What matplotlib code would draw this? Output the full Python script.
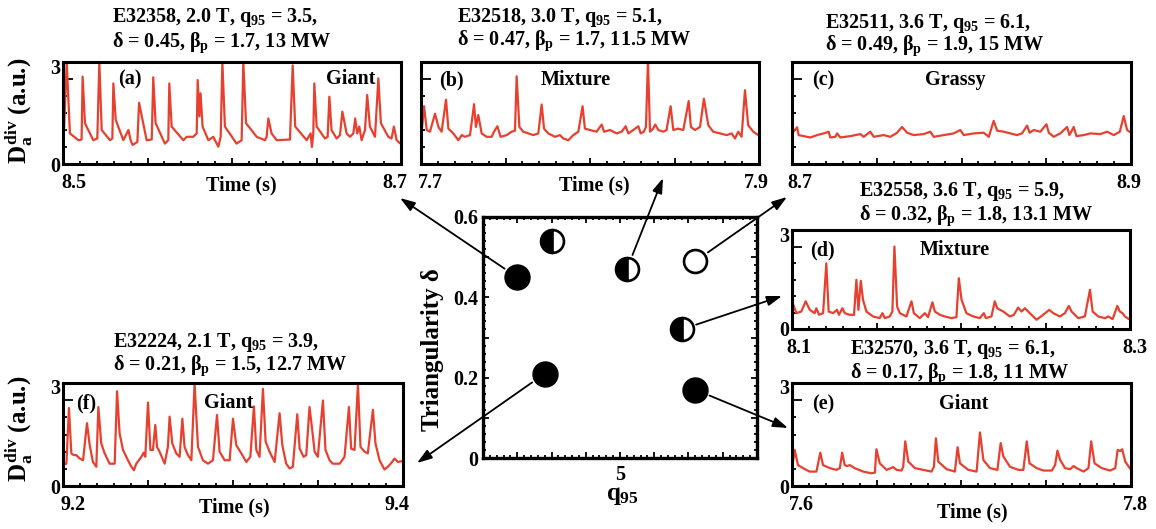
import numpy as np
import matplotlib
matplotlib.use('Agg')
import matplotlib.pyplot as plt
from matplotlib.transforms import ScaledTranslation

plt.rcParams['font.family'] = 'Liberation Serif'
plt.rcParams['font.weight'] = 'bold'
plt.rcParams['mathtext.fontset'] = 'custom'
plt.rcParams['mathtext.rm'] = 'Liberation Serif:bold'
plt.rcParams['mathtext.it'] = 'Liberation Serif:bold'
plt.rcParams['mathtext.bf'] = 'Liberation Serif:bold'

# D_alpha traces: (time since window start in ms, signal in a.u.)
trace_a = [(0.2, 0.51), (2.2, 3.0), (4.1, 0.9), (9.1, 0.7), (11.0, 0.72), (11.6, 2.57), (13.0, 1.2),
           (17.9, 0.7), (20.3, 0.75), (21.5, 3.0), (22.9, 1.0), (27.8, 0.7), (29.2, 0.75), (29.8, 2.37),
           (31.2, 1.3), (35.7, 0.7), (38.7, 1.0), (40.0, 0.7), (41.2, 0.56), (44.0, 0.65), (45.0, 1.8),
           (49.5, 0.7), (52.5, 0.72), (53.4, 2.55), (54.8, 1.2), (60.3, 0.6), (62.3, 0.7), (62.9, 2.37),
           (64.3, 1.1), (71.2, 0.7), (73.2, 0.8), (77.1, 0.8), (79.1, 0.9), (79.7, 2.47), (80.7, 1.4),
           (81.4, 2.08), (82.6, 1.1), (86.0, 0.7), (88.9, 0.8), (91.9, 0.51), (93.3, 0.8), (94.3, 3.0),
           (95.8, 1.1), (102.7, 0.6), (105.7, 0.7), (106.7, 3.0), (108.3, 1.2), (114.6, 0.8), (119.5, 0.7),
           (120.5, 0.8), (121.5, 1.34), (123.4, 0.9), (126.4, 0.7), (134.3, 0.72), (135.9, 2.9),
           (137.4, 1.1), (144.2, 0.7), (146.5, 0.9), (147.3, 0.5), (148.1, 0.9), (148.7, 2.37),
           (150.1, 1.1), (155.0, 0.75), (156.6, 0.8), (157.6, 1.98), (158.9, 1.0), (161.9, 0.75),
           (163.9, 0.85), (165.3, 1.54), (167.8, 0.9), (169.8, 0.8), (171.8, 0.9), (172.9, 1.34),
           (174.1, 0.9), (175.3, 1.1), (176.7, 0.7), (178.7, 1.0), (180.0, 2.03), (181.6, 1.1),
           (184.6, 0.8), (186.6, 2.52), (188.1, 1.2), (192.5, 0.8), (194.4, 0.75), (195.8, 1.1),
           (197.4, 0.7), (199.2, 0.62)]

trace_b = [(0.4, 0.95), (1.8, 1.70), (3.4, 1.0), (5.3, 0.95), (8.3, 1.48), (10.3, 1.09), (12.2, 0.95),
           (14.8, 1.89), (16.2, 1.04), (19.1, 0.90), (22.1, 0.70), (24.1, 0.85), (26.0, 0.80), (29.0, 0.85),
           (31.4, 1.76), (32.5, 1.09), (33.9, 1.44), (35.9, 0.90), (38.8, 0.80), (41.8, 0.80), (43.2, 0.95),
           (45.2, 1.11), (47.1, 0.80), (50.7, 0.85), (53.6, 0.95), (55.6, 0.98), (56.6, 2.58), (58.2, 1.09),
           (60.5, 0.95), (63.5, 0.90), (66.5, 0.85), (69.4, 0.90), (71.4, 1.75), (72.8, 1.04), (75.3, 0.90),
           (79.3, 0.80), (82.2, 0.85), (84.2, 0.75), (87.2, 0.70), (90.1, 0.85), (93.1, 0.95), (95.6, 1.70),
           (97.0, 1.04), (100.0, 1.0), (103.9, 0.95), (106.9, 1.16), (108.3, 0.95), (111.8, 1.0),
           (115.8, 0.90), (118.7, 0.95), (121.1, 1.11), (122.7, 0.90), (125.6, 1.0), (128.6, 1.11),
           (130.0, 0.90), (131.9, 0.95), (133.1, 1.09), (134.3, 3.05), (135.5, 0.95), (137.4, 1.04),
           (138.6, 1.16), (140.4, 1.0), (143.4, 0.95), (145.3, 1.0), (147.7, 1.70), (149.3, 1.0),
           (152.2, 1.04), (155.2, 1.0), (158.4, 1.85), (159.7, 1.09), (162.1, 1.0), (165.1, 1.09),
           (167.4, 1.92), (170.0, 1.14), (172.9, 0.95), (176.9, 0.90), (180.8, 0.85), (183.8, 0.90),
           (185.8, 0.75), (187.7, 0.95), (189.7, 0.80), (191.7, 2.17), (193.6, 1.14), (196.6, 0.95),
           (199.6, 0.85)]

trace_c = [(0.0, 0.90), (3.0, 1.08), (3.9, 0.85), (6.9, 0.82), (10.8, 0.78), (14.8, 0.85), (18.7, 0.90),
           (21.6, 0.95), (22.6, 0.78), (25.6, 0.80), (26.6, 0.90), (28.5, 0.78), (34.4, 0.82), (40.3, 0.88),
           (42.3, 0.80), (46.2, 0.95), (48.2, 0.80), (54.1, 0.85), (58.0, 0.80), (62.0, 0.92), (64.9, 1.09),
           (67.9, 0.92), (71.8, 0.85), (77.7, 0.88), (81.6, 0.95), (83.6, 0.80), (89.5, 0.85), (95.4, 0.90),
           (99.3, 1.00), (101.3, 0.85), (107.2, 0.90), (113.1, 0.92), (116.1, 0.80), (119.0, 1.27),
           (121.0, 0.98), (124.9, 0.95), (128.8, 0.90), (132.8, 0.85), (135.7, 0.90), (138.7, 1.13),
           (140.2, 0.92), (142.6, 1.00), (146.5, 0.95), (150.1, 1.17), (151.5, 0.92), (154.4, 0.80),
           (158.3, 0.90), (162.3, 1.09), (163.7, 0.85), (166.2, 1.09), (167.8, 0.82), (172.1, 0.85),
           (176.0, 0.90), (181.9, 0.88), (185.9, 0.95), (189.8, 0.85), (193.4, 0.95), (195.7, 1.41),
           (197.7, 1.00), (200.0, 0.92)]

trace_d = [(0.0, 0.84), (2.6, 0.48), (5.5, 0.53), (8.1, 0.84), (10.5, 0.58), (13.4, 0.48), (14.4, 0.63),
           (16.0, 0.43), (18.4, 0.48), (20.3, 1.99), (21.7, 0.53), (24.3, 0.48), (26.6, 0.58), (27.8, 0.43),
           (29.8, 0.63), (31.2, 0.48), (34.2, 0.43), (36.7, 0.43), (38.1, 1.49), (39.3, 0.58), (40.7, 1.46),
           (42.0, 0.89), (44.0, 0.53), (47.9, 0.38), (51.9, 0.33), (53.5, 0.48), (54.9, 0.33), (57.8, 0.38),
           (59.4, 0.53), (60.6, 2.50), (62.2, 0.68), (63.8, 0.48), (67.7, 0.38), (70.7, 0.84), (72.1, 0.48),
           (75.6, 0.33), (78.6, 0.48), (80.5, 0.36), (83.1, 0.81), (84.5, 0.53), (87.5, 0.43), (90.4, 0.38),
           (94.4, 0.33), (97.3, 0.36), (98.7, 1.54), (100.3, 0.89), (103.2, 0.48), (107.2, 0.38),
           (111.1, 0.33), (113.5, 0.48), (114.7, 0.33), (118.0, 0.38), (120.0, 0.84), (121.4, 0.63),
           (125.0, 0.53), (128.9, 0.38), (131.3, 0.43), (133.8, 0.65), (135.8, 0.53), (137.8, 0.63),
           (140.7, 0.48), (144.7, 0.28), (148.6, 0.43), (152.2, 0.58), (154.6, 0.48), (158.5, 0.38),
           (161.5, 0.48), (163.8, 0.70), (165.4, 0.53), (169.4, 0.33), (173.3, 0.38), (176.3, 1.19),
           (177.9, 0.53), (181.2, 0.38), (185.2, 0.33), (187.1, 0.38), (189.7, 0.30), (192.5, 0.70),
           (194.0, 0.53), (195.6, 0.48), (197.0, 0.38), (200.0, 0.28)]

trace_e = [(0.0, 0.52), (1.6, 1.05), (3.5, 0.61), (6.5, 0.52), (10.4, 0.42), (14.4, 0.42), (16.7, 0.97),
           (18.3, 0.61), (22.3, 0.52), (26.2, 0.47), (28.2, 0.52), (29.6, 0.97), (31.1, 0.61), (32.5, 0.58),
           (34.1, 0.61), (37.0, 0.52), (42.0, 0.42), (46.9, 0.37), (48.9, 0.39), (49.8, 1.07), (51.8, 0.66),
           (55.8, 0.47), (59.7, 0.55), (61.7, 0.47), (64.6, 0.45), (65.6, 0.56), (66.8, 1.30), (68.6, 0.71),
           (72.5, 0.52), (77.4, 0.47), (82.3, 0.42), (83.7, 0.56), (84.9, 1.39), (86.3, 0.71), (91.2, 0.49),
           (96.1, 0.42), (97.7, 1.13), (99.1, 0.66), (104.0, 0.47), (108.9, 0.42), (110.9, 1.56),
           (112.9, 0.76), (116.8, 0.52), (121.2, 0.47), (123.1, 1.25), (124.7, 0.86), (128.6, 0.56),
           (133.6, 0.47), (136.5, 0.47), (138.5, 1.30), (140.1, 0.66), (144.4, 0.52), (148.3, 0.45),
           (153.3, 0.45), (155.2, 0.61), (156.6, 1.03), (158.2, 0.76), (161.1, 0.52), (164.1, 0.49),
           (166.1, 0.58), (168.0, 0.52), (172.0, 0.42), (174.9, 0.52), (176.5, 1.30), (178.5, 0.66),
           (182.8, 0.52), (187.7, 0.45), (190.7, 0.52), (192.1, 1.05), (193.7, 1.02), (194.8, 1.07),
           (196.6, 0.71), (200.0, 0.47)]

trace_f = [(0.0, 0.61), (2.0, 0.65), (3.5, 2.27), (4.9, 0.95), (6.3, 0.90), (7.8, 0.90), (9.8, 0.80),
           (11.8, 0.75), (14.1, 1.83), (15.7, 1.19), (17.6, 0.70), (19.6, 0.56), (20.8, 2.30), (22.5, 1.24),
           (24.5, 0.95), (27.4, 0.65), (30.4, 0.65), (31.8, 2.76), (33.3, 1.53), (35.3, 1.05), (38.2, 0.75),
           (40.2, 0.56), (41.7, 0.46), (43.1, 0.65), (46.1, 0.85), (47.4, 0.97), (48.4, 0.85), (50.0, 2.43),
           (51.4, 1.05), (52.9, 1.05), (54.3, 1.78), (55.3, 1.14), (56.8, 1.00), (59.8, 0.65), (61.7, 1.14),
           (62.7, 2.02), (64.3, 1.24), (66.6, 0.95), (68.6, 0.85), (70.2, 1.96), (71.5, 1.14), (73.5, 0.90),
           (75.5, 0.75), (77.4, 2.98), (79.4, 1.14), (82.3, 0.75), (85.3, 0.65), (88.2, 0.75), (90.6, 2.07),
           (92.1, 1.00), (95.1, 0.75), (98.0, 0.75), (100.0, 1.96), (101.9, 1.19), (104.9, 0.95),
           (107.8, 0.70), (110.2, 0.85), (112.3, 2.32), (113.7, 1.05), (115.6, 0.85), (117.6, 2.83),
           (119.2, 1.29), (121.5, 1.00), (124.5, 0.70), (127.4, 2.12), (129.0, 1.19), (131.3, 0.65),
           (133.3, 0.51), (135.2, 0.56), (137.8, 2.09), (139.2, 1.09), (141.5, 0.85), (143.1, 0.90),
           (145.0, 2.30), (146.6, 1.63), (148.0, 1.00), (149.9, 0.85), (152.9, 2.49), (154.4, 1.05),
           (156.8, 0.75), (158.8, 0.65), (162.7, 0.65), (165.6, 0.85), (168.2, 2.30), (169.5, 1.09),
           (171.5, 1.05), (173.5, 2.98), (175.0, 1.14), (177.4, 1.00), (179.3, 0.95), (182.3, 2.22),
           (183.8, 1.24), (186.2, 0.75), (189.1, 0.48), (191.1, 0.56), (193.1, 0.67), (195.0, 0.80),
           (197.0, 0.70), (200.0, 0.73)]

t_start = {'a': 8.5, 'b': 7.7, 'c': 8.7, 'd': 8.1, 'e': 7.6, 'f': 9.2}

titles = {
    'a': ('E32358, 2.0 T, $q_{95}$ = 3.5,', 'δ = 0.45, $\\beta_p$ = 1.7, 13 MW'),
    'b': ('E32518, 3.0 T, $q_{95}$ = 5.1,', 'δ = 0.47, $\\beta_p$ = 1.7, 11.5 MW'),
    'c': ('E32511, 3.6 T, $q_{95}$ = 6.1,', 'δ = 0.49, $\\beta_p$ = 1.9, 15 MW'),
    'd': ('E32558, 3.6 T, $q_{95}$ = 5.9,', 'δ = 0.32, $\\beta_p$ = 1.8, 13.1 MW'),
    'e': ('E32570, 3.6 T, $q_{95}$ = 6.1,', 'δ = 0.17, $\\beta_p$ = 1.8, 11 MW'),
    'f': ('E32224, 2.1 T, $q_{95}$ = 3.9,', 'δ = 0.21, $\\beta_p$ = 1.5, 12.7 MW'),
}
elm_type = {'a': 'Giant', 'b': 'Mixture', 'c': 'Grassy', 'd': 'Mixture', 'e': 'Giant', 'f': 'Giant'}

# operating points in the (q95, delta) plane
q95_pts = [3.5, 3.9, 4.0, 5.1, 6.1, 5.9, 6.1]
delta_pts = [0.45, 0.21, 0.54, 0.47, 0.49, 0.32, 0.17]
kind_pts = ['giant', 'giant', 'mixture', 'mixture', 'grassy', 'mixture', 'giant']
panel_pts = ['a', 'f', None, 'b', 'c', 'd', 'e']

RED = '#e8402f'
W, H = 1156, 529
fig = plt.figure(figsize=(W / 100, H / 100), dpi=100)

# layout in pixels (left, top, right, bottom), measured from the top left corner
boxes = {'a': (63, 62, 401, 164), 'b': (421, 62, 759, 164), 'c': (792, 62, 1131, 164),
         'd': (792, 230, 1130, 329), 'e': (792, 383, 1131, 486), 'f': (63, 383, 403, 486)}
tick_shift = {'a': (11, -6), 'b': (9.5, -2.5), 'c': (7.5, -2.5), 'd': (6.5, 5), 'e': (9.5, 4.5), 'f': (10.5, -6.5)}
title_pos = {'a': (112, 22, 47), 'b': (457, 22, 45), 'c': (825, 28, 50),
             'd': (859, 196, 220), 'e': (850, 354, 378), 'f': (113, 347, 370)}
tag_pos = {'a': (118, 351, 84), 'b': (439, 576, 85), 'c': (812, 955, 85),
           'd': (810, 955, 255), 'e': (812, 964, 409), 'f': (76, 229, 408)}
time_pos = {'a': (241, 190), 'b': (594, 190), 'e': (972, 517), 'f': (234, 512)}
arrow_head = {'a': (400, 198), 'b': (663, 178), 'c': (787, 197), 'd': (782, 296), 'e': (788, 428), 'f': (417, 463)}
FS = 14.5


def axbox(l, t, r, b):
    return [l / W, 1 - b / H, (r - l) / W, (b - t) / H]


def ftext(x, y, s, **kw):
    fig.text(x / W, 1 - y / H, s, **kw)


def nudge(label, dx, dy):
    label.set_transform(label.get_transform() + ScaledTranslation(dx / 100, -dy / 100, fig.dpi_scale_trans))


def panel(key, trace, show_y):
    ax = fig.add_axes(axbox(*boxes[key]))
    t0 = t_start[key]
    ms, d = np.array(trace).T
    ax.plot(t0 + ms / 1000, d, color=RED, lw=1.6)
    ax.set_xlim(t0, t0 + 0.2)
    ax.set_ylim(0, 3)
    ax.set_xticks(t0 + np.arange(5) * 0.05, [f'{t0:.1f}', '', '', '', f'{t0 + 0.2:.1f}'])
    ax.set_xticks(t0 + np.arange(21) * 0.01, minor=True)
    ax.set_yticks([0, 2.5, 3], ['0', '', '3'] if show_y else ['', '', ''])
    ax.set_yticks(np.arange(0, 3.01, 0.5), minor=True)
    ax.tick_params(which='both', direction='in', top=False, right=False, width=1.3, labelsize=FS)
    ax.tick_params(axis='x', which='major', length=4, pad=17)
    ax.tick_params(axis='x', which='minor', length=2)
    ax.tick_params(axis='y', which='major', length=7, pad=2)
    ax.tick_params(axis='y', which='minor', length=3)
    for s in ax.spines.values():
        s.set_linewidth(2.2)
    xl = ax.get_xticklabels()
    for lab in xl:
        lab.set_va('baseline')
    nudge(xl[0], tick_shift[key][0], 0)
    nudge(xl[-1], tick_shift[key][1], 0)
    nudge(ax.get_yticklabels()[-1], 0, 4)

    tx, b1, b2 = title_pos[key]
    ftext(tx, b1, titles[key][0], fontsize=FS, va='baseline', ha='left')
    ftext(tx, b2, titles[key][1], fontsize=FS, va='baseline', ha='left')
    lx, cx, lb = tag_pos[key]
    ftext(lx, lb, f'({key})', fontsize=FS, va='baseline', ha='left')
    ftext(cx, lb, elm_type[key], fontsize=FS, va='baseline', ha='center')
    if key in time_pos:
        ftext(*time_pos[key], 'Time (s)', fontsize=FS, va='baseline', ha='center')
    return ax


panel('a', trace_a, True)
panel('b', trace_b, False)
panel('c', trace_c, False)
panel('d', trace_d, True)
panel('e', trace_e, True)
panel('f', trace_f, True)

ftext(19, 111, '$D_a^{div}$ (a.u.)', fontsize=18, rotation=90, ha='center', va='center')
ftext(19, 429, '$D_a^{div}$ (a.u.)', fontsize=18, rotation=90, ha='center', va='center')

# central q95 - triangularity map
axc = fig.add_axes(axbox(483, 217, 757, 458))
for q, dl, kind in zip(q95_pts, delta_pts, kind_pts):
    if kind == 'giant':
        axc.plot(q, dl, 'o', ms=17.5, mfc='k', mec='k', mew=1.5, clip_on=False)
    elif kind == 'mixture':
        axc.plot(q, dl, 'o', ms=16.5, fillstyle='left', mfc='k', mfcalt='w', mec='k', mew=1.9, clip_on=False)
    else:
        axc.plot(q, dl, 'o', ms=16.5, mfc='w', mec='k', mew=1.9, clip_on=False)
axc.set_xlim(3, 7)
axc.set_ylim(0, 0.6)
xt = np.arange(3, 7.01, 0.5)
axc.set_xticks(xt, ['5' if abs(v - 5) < 1e-6 else '' for v in xt])
axc.set_xticks(np.arange(3, 7.01, 0.1), minor=True)
yt = np.arange(0, 0.61, 0.1)
axc.set_yticks(yt, ['0', '', '0.2', '', '0.4', '', '0.6'])
axc.set_yticks(np.arange(0, 0.601, 0.02), minor=True)
axc.tick_params(which='both', direction='in', top=True, right=True, width=1.3, labelsize=FS)
axc.tick_params(which='major', length=4.5)
axc.tick_params(which='minor', length=2.2)
axc.tick_params(axis='y', pad=3.5)
axc.tick_params(axis='x', pad=16)
for lab in axc.get_xticklabels():
    lab.set_va('baseline')
for s in axc.spines.values():
    s.set_linewidth(2.4)

for q, dl, key in zip(q95_pts, delta_pts, panel_pts):
    if key is None:
        continue
    hx, hy = arrow_head[key]
    axc.annotate('', xy=(hx, H - hy), xycoords='figure pixels', xytext=(q, dl), textcoords='data',
                 arrowprops=dict(arrowstyle='-|>,head_length=0.9,head_width=0.3', color='k', lw=1.3,
                                 shrinkA=11, shrinkB=0))

ftext(432, 350, 'Triangularity δ', fontsize=18, rotation=90, ha='center', va='center')
ftext(622, 500, '$q_{95}$', fontsize=18, ha='center', va='baseline')

fig.savefig('out.png', dpi=100)
